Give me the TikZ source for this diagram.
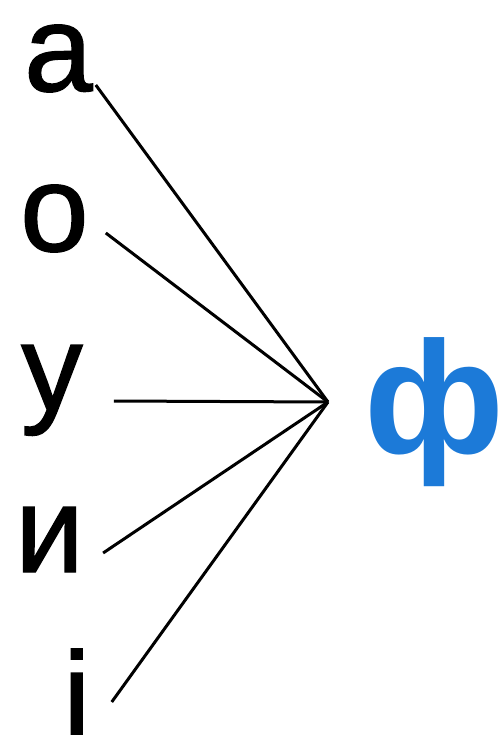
\documentclass[tikz,border=0pt]{standalone}
\usepackage{fontspec}
\setmainfont{Liberation Sans}
\newfontfamily\letterfont[FakeBold=1.2]{Liberation Sans}
\definecolor{phiblue}{RGB}{28,122,216}
\begin{document}
\begin{tikzpicture}[x=1bp,y=-1bp,
    letter/.style={font=\letterfont\fontsize{123bp}{123bp}\selectfont, inner sep=0pt, anchor=base west},
    spoke/.style={line width=3bp, black}]
    \useasboundingbox (0,0) rectangle (500,735);
    \node[letter] (a) at (24,91) {а};
    \node[letter] (o) at (20,251) {о};
    \node[letter] (u) at (21,410) {у};
    \node[letter] (y) at (15,572) {и};
    \node[letter] (i) at (63,738) {і};
    \coordinate (hub) at (328,402);
    \node[letter, font=\fontsize{160bp}{160bp}\selectfont\bfseries, text=phiblue] (f) at (364,453) {ф};
    \foreach \n/\dx/\dy in {a/3/-6, o/17/-18, u/31/-9, y/19/-19, i/21/-36}
        \draw[spoke] ([shift={(\dx,\dy)}]\n.base east) -- (hub);
\end{tikzpicture}
\end{document}
